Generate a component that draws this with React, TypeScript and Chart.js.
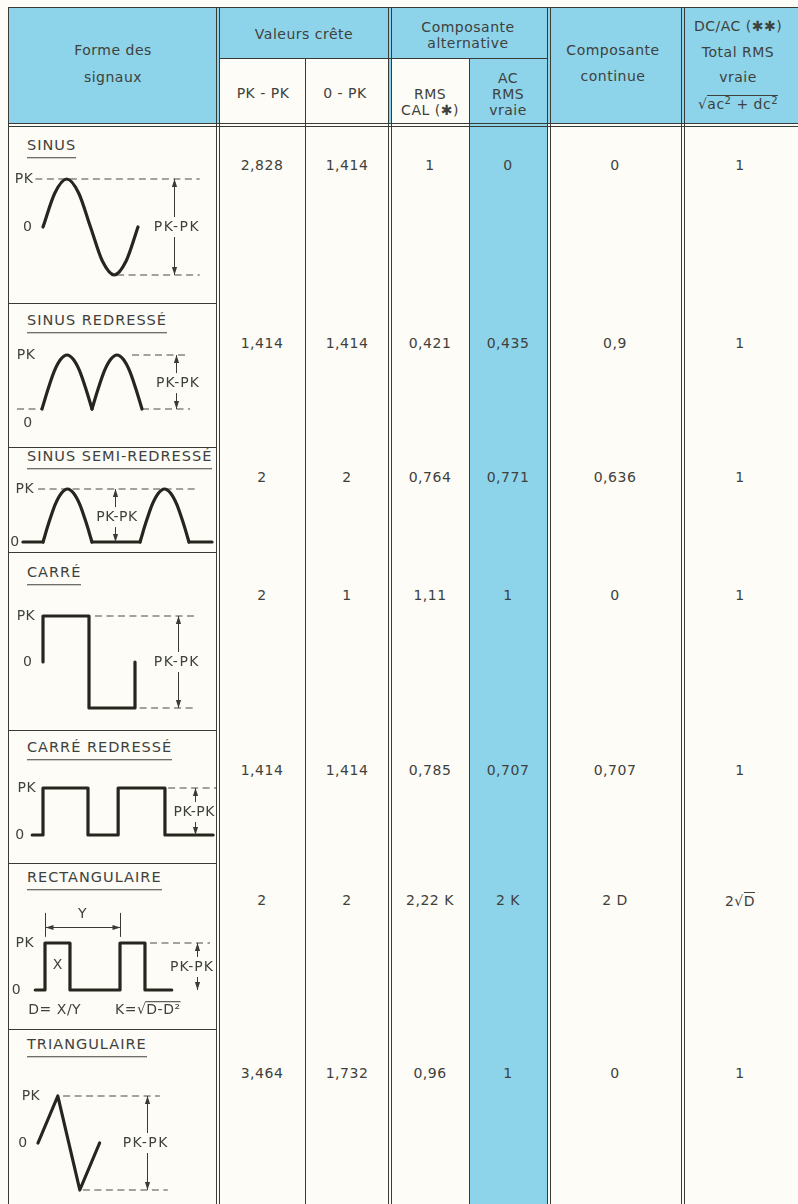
import React, { useEffect, useRef } from "react";
import { Chart, registerables } from "chart.js";

Chart.register(...registerables);

// ---------------- data ----------------
const signalTitles = [
  "SINUS",
  "SINUS REDRESSÉ",
  "SINUS SEMI-REDRESSÉ",
  "CARRÉ",
  "CARRÉ REDRESSÉ",
  "RECTANGULAIRE",
  "TRIANGULAIRE",
];
const pkPkValues = ["2,828", "1,414", "2", "2", "1,414", "2", "3,464"];
const zeroPkValues = ["1,414", "1,414", "2", "1", "1,414", "2", "1,732"];
const rmsCalValues = ["1", "0,421", "0,764", "1,11", "0,785", "2,22 K", "0,96"];
const acRmsValues = ["0", "0,435", "0,771", "1", "0,707", "2 K", "1"];
const dcValues = ["0", "0,9", "0,636", "0", "0,707", "2 D", "0"];
const totalRmsValues = ["1", "1", "1", "1", "1", "2√D", "1"];

// waveforms (t = time units, v = amplitude, PK = 1)
const sinusT = [0, 0.125, 0.25, 0.375, 0.5, 0.625, 0.75, 0.875, 1];
const sinusV = [0, 0.71, 1, 0.71, 0, -0.71, -1, -0.71, 0];
const humpT = [0, 0.125, 0.25, 0.375, 0.5, 0.625, 0.75, 0.875, 1];
const humpV = [0, 0.38, 0.71, 0.92, 1, 0.92, 0.71, 0.38, 0];
const redresseHumpStarts = [0, 1];
const semiHumpStarts = [0, 1.98];
const semiFlatStarts = [-0.41, 1, 2.98];
const semiFlatEnds = [0, 1.98, 3.45];
const carreT = [0, 0, 1, 1, 2, 2];
const carreV = [0, 1, 1, -1, -1, 0];
const carreRedT = [-0.24, 0, 0, 1, 1, 1.67, 1.67, 2.71, 2.71, 3.78];
const carreRedV = [0, 0, 1, 1, 0, 0, 1, 1, 0, 0];
const rectT = [-0.13, 0, 0, 0.333, 0.333, 1, 1, 1.333, 1.333, 1.69];
const rectV = [0, 0, 1, 1, 0, 0, 1, 1, 0, 0];
const triT = [0, 0.45, 0.95, 1.4];
const triV = [0, 1, -1, 0];

// ---------------- layout / style ----------------
const FONT = '"DejaVu Sans", "Noto Sans", sans-serif';
const INK = "#26261f";
const LINE = "#3a3a36";
const TXT = "#3f413c";
const BLUE = "#8dd4ea";
const PAPER = "#fdfcf6";

const PAGE_W = 798;
const PAGE_H = 1204;
const TABLE_TOP = 7;
const TABLE_LEFT = 8;
const HEAD_MID = 58;
const HEAD_BOT = 123;
const rowTops = [126, 303, 447, 552, 730, 863, 1029, 1204];
const titleY = [148, 323, 459, 575, 750, 880, 1047];
const valueY = [165, 343, 477, 595, 770, 900, 1073];
const valueX = [262, 347, 430, 508, 615, 740];

// wave anchors: page px of t=0, px per t unit, page px of v=0, px per v unit
const waveAnchors = [
  { x0: 43, xu: 95, y0: 227, yu: 48 },
  { x0: 42, xu: 50, y0: 409, yu: 54 },
  { x0: 43, xu: 49, y0: 542, yu: 53 },
  { x0: 43, xu: 46, y0: 662, yu: 46 },
  { x0: 43, xu: 45, y0: 835, yu: 47 },
  { x0: 45, xu: 75, y0: 990, yu: 47 },
  { x0: 38, xu: 44, y0: 1143, yu: 47 },
];

type Guide = {
  dashes: [number, number, number][];
  arrows: { t: number; v1: number; v2: number; gapV?: number }[];
  labels: { text: string; t: number; v: number; root?: string; ls?: number }[];
  dims?: { t1: number; t2: number; v: number; top: number; bot: number }[];
};

const waveGuides: Guide[] = [
  {
    dashes: [[-0.08, 1.65, 1], [0.78, 1.65, -1]],
    arrows: [{ t: 1.38, v1: 1, v2: -1, gapV: 0 }],
    labels: [
      { text: "PK", t: -0.2, v: 1 },
      { text: "0", t: -0.16, v: 0 },
      { text: "PK-PK", t: 1.41, v: 0, ls: 1.5 },
    ],
  },
  {
    dashes: [[-0.5, 0, 0], [2, 2.96, 0], [1.8, 2.86, 1]],
    arrows: [{ t: 2.68, v1: 1, v2: 0, gapV: 0.48 }],
    labels: [
      { text: "PK", t: -0.32, v: 1 },
      { text: "0", t: -0.28, v: -0.26 },
      { text: "PK-PK", t: 2.72, v: 0.48, ls: 1 },
    ],
  },
  {
    dashes: [[-0.1, 3.1, 1]],
    arrows: [{ t: 1.47, v1: 1, v2: 0, gapV: 0.47 }],
    labels: [
      { text: "PK", t: -0.37, v: 1 },
      { text: "0", t: -0.57, v: 0 },
      { text: "PK-PK", t: 1.51, v: 0.47, ls: 0.5 },
    ],
  },
  {
    dashes: [[1.13, 3.3, 1], [2.1, 3.26, -1]],
    arrows: [{ t: 2.93, v1: 1, v2: -1, gapV: 0 }],
    labels: [
      { text: "PK", t: -0.37, v: 1 },
      { text: "0", t: -0.33, v: 0 },
      { text: "PK-PK", t: 2.91, v: 0, ls: 1.5 },
    ],
  },
  {
    dashes: [[2.78, 3.9, 1]],
    arrows: [{ t: 3.38, v1: 1, v2: 0, gapV: 0.49 }],
    labels: [
      { text: "PK", t: -0.36, v: 1 },
      { text: "0", t: -0.51, v: 0 },
      { text: "PK-PK", t: 3.36, v: 0.49, ls: 0.5 },
    ],
  },
  {
    dashes: [[1.4, 2.2, 1]],
    arrows: [{ t: 2.03, v1: 1, v2: 0, gapV: 0.49 }],
    labels: [
      { text: "PK", t: -0.27, v: 1 },
      { text: "0", t: -0.38, v: 0 },
      { text: "PK-PK", t: 1.96, v: 0.49, ls: 1 },
      { text: "X", t: 0.17, v: 0.53 },
      { text: "Y", t: 0.5, v: 1.6 },
      { text: "D= X/Y", t: 0.13, v: -0.43 },
      { text: "K=", t: 1.37, v: -0.43, root: "D-D²" },
    ],
    dims: [{ t1: 0, t2: 1, v: 1.34, top: 1.64, bot: 1.13 }],
  },
  {
    dashes: [[0.57, 2.77, 1], [1.02, 2.95, -1]],
    arrows: [{ t: 2.48, v1: 1, v2: -1, gapV: 0 }],
    labels: [
      { text: "PK", t: -0.16, v: 1 },
      { text: "0", t: -0.34, v: 0 },
      { text: "PK-PK", t: 2.45, v: 0, ls: 1.5 },
    ],
  },
];

type Pt = { x: number; y: number };
const zip = (t: number[], v: number[]): Pt[] => t.map((x, k) => ({ x, y: v[k] }));

function wavePieces(i: number): { pts: Pt[]; curve: boolean }[] {
  const hump = (s: number) => ({ pts: humpT.map((t, k) => ({ x: s + t, y: humpV[k] })), curve: true });
  switch (i) {
    case 0:
      return [{ pts: zip(sinusT, sinusV), curve: true }];
    case 1:
      return redresseHumpStarts.map(hump);
    case 2:
      return [
        ...semiHumpStarts.map(hump),
        ...semiFlatStarts.map((s, k) => ({ pts: [{ x: s, y: 0 }, { x: semiFlatEnds[k], y: 0 }], curve: false })),
      ];
    case 3:
      return [{ pts: zip(carreT, carreV), curve: false }];
    case 4:
      return [{ pts: zip(carreRedT, carreRedV), curve: false }];
    case 5:
      return [{ pts: zip(rectT, rectV), curve: false }];
    default:
      return [{ pts: zip(triT, triV), curve: false }];
  }
}

function arrowHead(ctx: CanvasRenderingContext2D, x: number, y: number, dx: number, dy: number) {
  const len = 8;
  const hw = 2.6;
  const bx = x - dx * len;
  const by = y - dy * len;
  ctx.beginPath();
  ctx.moveTo(x, y);
  ctx.lineTo(bx - dy * hw, by + dx * hw);
  ctx.lineTo(bx + dy * hw, by - dx * hw);
  ctx.closePath();
  ctx.fill();
}

const guidePlugin = {
  id: "guides",
  afterDatasetsDraw(chart: any, _args: any, opts: any) {
    const g: Guide = opts.guide;
    if (!g) return;
    const ctx: CanvasRenderingContext2D = chart.ctx;
    const xs = chart.scales.x;
    const ys = chart.scales.y;
    const px = (t: number) => xs.getPixelForValue(t);
    const py = (v: number) => ys.getPixelForValue(v);
    ctx.save();
    ctx.strokeStyle = LINE;
    ctx.fillStyle = LINE;
    ctx.lineWidth = 1;
    for (const a of g.arrows) {
      const x = Math.round(px(a.t)) + 0.5;
      const y1 = py(a.v1);
      const y2 = py(a.v2);
      const segs: [number, number][] = [];
      if (a.gapV !== undefined) {
        const gy = py(a.gapV);
        segs.push([y1, gy - 10], [gy + 10, y2]);
      } else segs.push([y1, y2]);
      ctx.beginPath();
      for (const [s, e] of segs) {
        if (e > s) {
          ctx.moveTo(x, s);
          ctx.lineTo(x, e);
        }
      }
      ctx.stroke();
      arrowHead(ctx, x, y1, 0, -1);
      arrowHead(ctx, x, y2, 0, 1);
    }
    if (g.dims) {
      for (const d of g.dims) {
        const x1 = Math.round(px(d.t1)) + 0.5;
        const x2 = Math.round(px(d.t2)) + 0.5;
        const y = Math.round(py(d.v)) + 0.5;
        ctx.beginPath();
        ctx.moveTo(x1, py(d.top));
        ctx.lineTo(x1, py(d.bot));
        ctx.moveTo(x2, py(d.top));
        ctx.lineTo(x2, py(d.bot));
        ctx.moveTo(x1, y);
        ctx.lineTo(x2, y);
        ctx.stroke();
        arrowHead(ctx, x1, y, -1, 0);
        arrowHead(ctx, x2, y, 1, 0);
      }
    }
    ctx.fillStyle = TXT;
    ctx.font = `14px ${FONT}`;
    ctx.textBaseline = "middle";
    for (const l of g.labels) {
      (ctx as any).letterSpacing = `${l.ls ?? 0.5}px`;
      const x = px(l.t);
      const y = py(l.v);
      if (l.root) {
        const pre = l.text;
        const body = l.root;
        const wPre = ctx.measureText(pre).width;
        const wRoot = ctx.measureText("√").width;
        const wBody = ctx.measureText(body).width;
        const total = wPre + wRoot + wBody;
        let cx = x - total / 2;
        ctx.textAlign = "left";
        ctx.fillText(pre, cx, y);
        cx += wPre;
        ctx.fillText("√", cx, y);
        cx += wRoot;
        ctx.fillText(body, cx, y);
        ctx.beginPath();
        ctx.moveTo(cx - 1, y - 8.5);
        ctx.lineTo(cx + wBody, y - 8.5);
        ctx.stroke();
      } else {
        ctx.textAlign = "center";
        ctx.fillText(l.text, x, y);
      }
    }
    ctx.restore();
  },
};

function WaveCell({ index }: { index: number }) {
  const ref = useRef<HTMLCanvasElement>(null);
  const left = TABLE_LEFT + 1;
  const width = 216 - left;
  const top = rowTops[index] + 1;
  const height = rowTops[index + 1] - top - 1;
  useEffect(() => {
    const a = waveAnchors[index];
    const g = waveGuides[index];
    const pieces = wavePieces(index);
    const datasets: any[] = [];
    for (const p of pieces) {
      datasets.push({
        data: p.pts,
        borderColor: INK,
        borderWidth: 3.2,
        pointRadius: 0,
        fill: false,
        tension: 0,
        cubicInterpolationMode: p.curve ? "monotone" : "default",
        borderCapStyle: "round",
        borderJoinStyle: "round",
        clip: false,
      });
    }
    for (const [t1, t2, v] of g.dashes) {
      datasets.push({
        data: [{ x: t1, y: v }, { x: t2, y: v }],
        borderColor: "#4a4a45",
        borderWidth: 1.1,
        borderDash: [7, 4.5],
        pointRadius: 0,
        fill: false,
        clip: false,
      });
    }
    const chart = new Chart(ref.current as HTMLCanvasElement, {
      type: "line",
      data: { datasets },
      options: {
        animation: false,
        responsive: true,
        maintainAspectRatio: false,
        events: [],
        layout: { padding: 0 },
        scales: {
          x: {
            type: "linear",
            display: false,
            min: (left - a.x0) / a.xu,
            max: (left + width - a.x0) / a.xu,
          },
          y: {
            type: "linear",
            display: false,
            min: (a.y0 - (top + height)) / a.yu,
            max: (a.y0 - top) / a.yu,
          },
        },
        plugins: {
          legend: { display: false },
          tooltip: { enabled: false },
          guides: { guide: g },
        } as any,
      },
      plugins: [guidePlugin as any],
    } as any);
    return () => chart.destroy();
  }, [index]);
  return (
    <div style={{ position: "absolute", left, top, width, height }}>
      <canvas ref={ref} />
    </div>
  );
}

function Txt({
  x,
  y,
  children,
  size = 14,
  ls = 0.5,
}: {
  x: number;
  y: number;
  children: React.ReactNode;
  size?: number;
  ls?: number;
}) {
  return (
    <div
      style={{
        position: "absolute",
        left: x,
        top: y,
        transform: "translate(-50%, -50%)",
        whiteSpace: "nowrap",
        fontSize: size,
        letterSpacing: ls,
        color: TXT,
        fontFamily: FONT,
        lineHeight: 1,
      }}
    >
      {children}
    </div>
  );
}

function Rect({ x, y, w, h, c }: { x: number; y: number; w: number; h: number; c: string }) {
  return <div style={{ position: "absolute", left: x, top: y, width: w, height: h, background: c }} />;
}

function VLine({ x, y1, y2 }: { x: number; y1: number; y2: number }) {
  return <Rect x={x} y={y1} w={1} h={y2 - y1} c={LINE} />;
}
function HLine({ y, x1, x2 }: { y: number; x1: number; x2: number }) {
  return <Rect x={x1} y={y} w={x2 - x1} h={1} c={LINE} />;
}

function Overlined({ children }: { children: React.ReactNode }) {
  return (
    <span style={{ borderTop: `1px solid ${TXT}`, paddingTop: 1, display: "inline-block" }}>{children}</span>
  );
}

function renderValue(s: string) {
  const k = s.indexOf("√");
  if (k < 0) return s;
  return (
    <span>
      {s.slice(0, k)}√<Overlined>{s.slice(k + 1)}</Overlined>
    </span>
  );
}

export default function App() {
  const sup = (t: string) => (
    <span style={{ fontSize: 10, position: "relative", top: -5 }}>{t}</span>
  );
  const valueCols = [pkPkValues, zeroPkValues, rmsCalValues, acRmsValues, dcValues, totalRmsValues];
  return (
    <div
      style={{
        position: "relative",
        width: PAGE_W,
        height: PAGE_H,
        overflow: "hidden",
        background: PAPER,
        fontFamily: FONT,
      }}
    >
      <style>{`body{margin:0;background:${PAPER};}`}</style>
      {/* blue fills */}
      <Rect x={TABLE_LEFT} y={TABLE_TOP} w={PAGE_W - TABLE_LEFT} h={HEAD_BOT - TABLE_TOP} c={BLUE} />
      <Rect x={220} y={HEAD_MID} w={168} h={HEAD_BOT - HEAD_MID} c={PAPER} />
      <Rect x={391} y={HEAD_MID} w={78} h={HEAD_BOT - HEAD_MID} c={PAPER} />
      <Rect x={469} y={HEAD_BOT} w={78} h={PAGE_H - HEAD_BOT} c={BLUE} />
      <Rect x={217} y={HEAD_BOT} w={4} h={PAGE_H - HEAD_BOT} c={PAPER} />

      {/* grid lines */}
      <HLine y={TABLE_TOP} x1={TABLE_LEFT} x2={PAGE_W} />
      <HLine y={HEAD_MID} x1={220} x2={547} />
      <HLine y={HEAD_BOT} x1={TABLE_LEFT} x2={PAGE_W} />
      <HLine y={HEAD_BOT + 3} x1={TABLE_LEFT} x2={PAGE_W} />
      <VLine x={TABLE_LEFT} y1={TABLE_TOP} y2={PAGE_H} />
      <VLine x={216} y1={TABLE_TOP} y2={PAGE_H} />
      <VLine x={219} y1={TABLE_TOP} y2={PAGE_H} />
      <VLine x={305} y1={HEAD_MID} y2={PAGE_H} />
      <VLine x={388} y1={TABLE_TOP} y2={PAGE_H} />
      <VLine x={391} y1={TABLE_TOP} y2={PAGE_H} />
      <VLine x={469} y1={HEAD_MID} y2={PAGE_H} />
      <VLine x={547} y1={TABLE_TOP} y2={PAGE_H} />
      <VLine x={550} y1={TABLE_TOP} y2={PAGE_H} />
      <VLine x={681} y1={TABLE_TOP} y2={PAGE_H} />
      <VLine x={684} y1={TABLE_TOP} y2={PAGE_H} />
      {rowTops.slice(1, -1).map((y) => (
        <HLine key={y} y={y} x1={TABLE_LEFT} x2={216} />
      ))}

      {/* header texts */}
      <Txt x={113} y={50}>Forme des</Txt>
      <Txt x={113} y={77}>signaux</Txt>
      <Txt x={304} y={34}>Valeurs crête</Txt>
      <Txt x={263} y={93}>PK - PK</Txt>
      <Txt x={345} y={93}>0 - PK</Txt>
      <Txt x={468} y={27}>Composante</Txt>
      <Txt x={468} y={43}>alternative</Txt>
      <Txt x={430} y={94}>RMS</Txt>
      <Txt x={430} y={110}>CAL (✱)</Txt>
      <Txt x={508} y={78}>AC</Txt>
      <Txt x={508} y={94}>RMS</Txt>
      <Txt x={508} y={110}>vraie</Txt>
      <Txt x={613} y={50}>Composante</Txt>
      <Txt x={613} y={76}>continue</Txt>
      <Txt x={738} y={26}>DC/AC (✱✱)</Txt>
      <Txt x={738} y={52}>Total RMS</Txt>
      <Txt x={738} y={77}>vraie</Txt>
      <Txt x={738} y={103}>
        √<Overlined>
          ac{sup("2")} + dc{sup("2")}
        </Overlined>
      </Txt>

      {/* row titles */}
      {signalTitles.map((t, i) => (
        <div
          key={t}
          style={{
            position: "absolute",
            left: 27,
            top: titleY[i],
            transform: "translateY(-50%)",
            whiteSpace: "nowrap",
            fontSize: 14.5,
            letterSpacing: 1,
            color: TXT,
            lineHeight: 1,
            paddingBottom: 4,
            borderBottom: `1px solid ${TXT}`,
          }}
        >
          {t}
        </div>
      ))}

      {/* values */}
      {valueCols.map((col, c) =>
        col.map((v, r) => (
          <Txt key={`${c}-${r}`} x={valueX[c]} y={valueY[r]}>
            {renderValue(v)}
          </Txt>
        ))
      )}

      {/* waveforms */}
      {signalTitles.map((_, i) => (
        <WaveCell key={i} index={i} />
      ))}
    </div>
  );
}
